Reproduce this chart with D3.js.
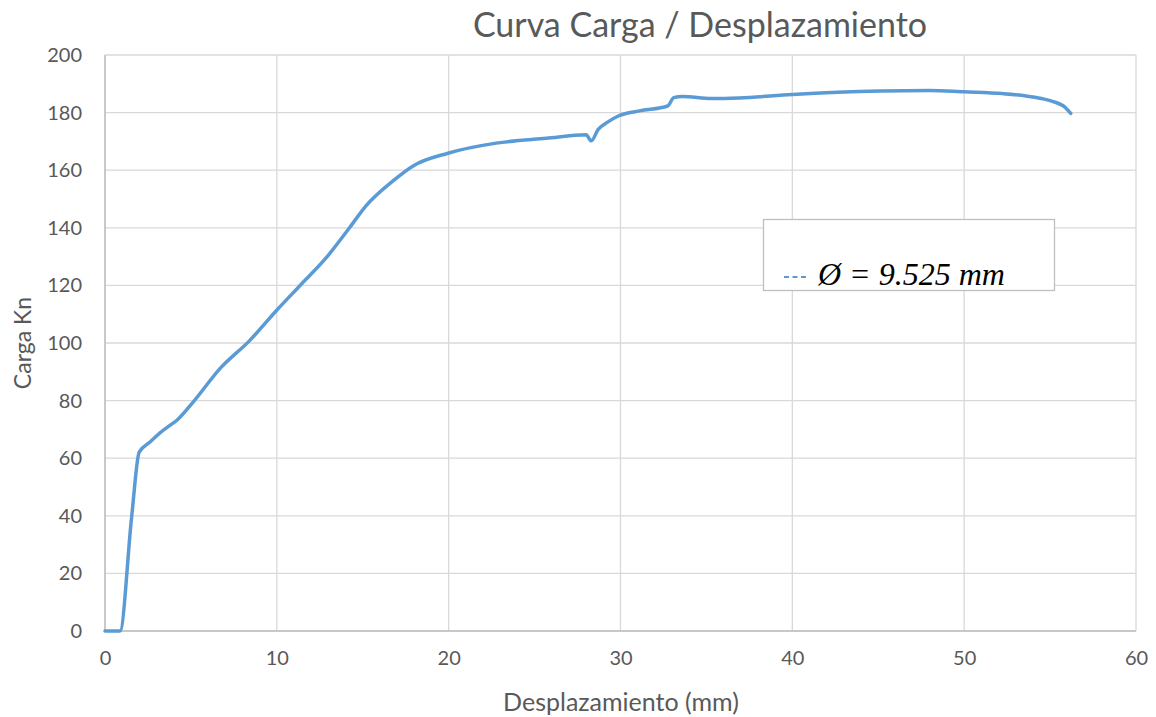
<!DOCTYPE html>
<html lang="es">
<head>
  <meta charset="UTF-8">
  <title>Curva Carga / Desplazamiento</title>
  <script src="https://d3js.org/d3.v7.min.js"></script>
  <style>
    body { margin: 0; background: #fff; }
    text { font-family: Lato, 'Open Sans', sans-serif; fill: #595959; }
    .grid line { stroke: #d9d9d9; stroke-width: 1.3; }
    .axis path, .axis line { display: none; }
    .axis text { font-size: 20px; fill: #595959; font-family: Lato, sans-serif; }
    .curve { fill: none; stroke: #5b9bd5; stroke-width: 3.5; stroke-linejoin: round; stroke-linecap: round; }
  </style>
</head>
<body>
  <svg id="chart" width="1156" height="717"></svg>
  <script>
    // desplazamiento (mm) / carga (kN)
    const desplazamiento = [0, 0.87, 1.55, 1.99, 2.62, 3.2, 3.78, 4.17, 5.13, 6.69, 8.43, 9.98, 11.34, 12.89, 14.24, 15.2, 16.76, 17.93, 19.96, 22.77, 25.68, 28.0, 28.3, 28.7, 29.2, 29.9, 31.1, 32.75, 33.1, 33.6, 35.3, 36.9, 40, 45.1, 48, 50, 52.2, 53.6, 54.5, 55.1, 55.9, 56.2];
    const carga = [0, 0, 39.6, 62.1, 65.6, 68.8, 71.4, 73.1, 79.5, 91.1, 100.9, 111.3, 119.9, 129.7, 140.1, 147.7, 156.3, 161.5, 165.9, 169.4, 171.1, 172.3, 170.2, 174.2, 176.5, 178.9, 180.6, 182.3, 185.2, 185.6, 184.9, 185.1, 186.3, 187.5, 187.7, 187.2, 186.6, 185.8, 184.9, 184.0, 181.7, 179.7];
    const xTicks = [0, 10, 20, 30, 40, 50, 60];
    const yTicks = [0, 20, 40, 60, 80, 100, 120, 140, 160, 180, 200];

    const svg = d3.select("#chart");
    const margin = { left: 105, right: 20, top: 55, bottom: 86 };
    const W = 1156, H = 717;

    const x = d3.scaleLinear().domain([0, 60]).range([margin.left, W - margin.right]);
    const y = d3.scaleLinear().domain([0, 200]).range([H - margin.bottom, margin.top]);

    // grid
    svg.append("g").attr("class", "grid")
      .selectAll("line").data(yTicks).join("line")
      .attr("x1", x(0)).attr("x2", x(60))
      .attr("y1", d => y(d)).attr("y2", d => y(d));
    svg.append("g").attr("class", "grid")
      .selectAll("line").data(xTicks).join("line")
      .attr("y1", y(0)).attr("y2", y(200))
      .attr("x1", d => x(d)).attr("x2", d => x(d));

    // axis lines
    svg.append("line").attr("x1", x(0)).attr("x2", x(60)).attr("y1", y(0)).attr("y2", y(0))
      .attr("stroke", "#bfbfbf").attr("stroke-width", 1.5);
    svg.append("line").attr("x1", x(0)).attr("x2", x(0)).attr("y1", y(0)).attr("y2", y(200))
      .attr("stroke", "#bfbfbf").attr("stroke-width", 1.5);

    svg.append("g").attr("class", "axis")
      .attr("transform", `translate(0,${y(0)})`)
      .call(d3.axisBottom(x).tickValues(xTicks).tickSize(0).tickPadding(20));
    svg.append("g").attr("class", "axis")
      .attr("transform", `translate(${x(0)},0)`)
      .call(d3.axisLeft(y).tickValues(yTicks).tickSize(0).tickPadding(23));

    // curve
    const pts = desplazamiento.map((d, i) => [d, carga[i]]);
    const line = d3.line().x(d => x(d[0])).y(d => y(d[1])).curve(d3.curveMonotoneX);
    svg.append("path").datum(pts).attr("class", "curve").attr("d", line);

    // titles
    svg.append("text").attr("x", 700).attr("y", 37).attr("text-anchor", "middle")
      .style("font-size", "34px").text("Curva Carga / Desplazamiento");
    svg.append("text").attr("x", 621).attr("y", 711).attr("text-anchor", "middle")
      .style("font-size", "25px").text("Desplazamiento (mm)");
    svg.append("text").attr("transform", "translate(31,343) rotate(-90)").attr("text-anchor", "middle")
      .style("font-size", "23px").text("Carga Kn");

    // legend
    const lg = svg.append("g");
    lg.append("rect").attr("x", 763.5).attr("y", 219.5).attr("width", 291).attr("height", 71)
      .attr("fill", "#fff").attr("stroke", "#bfbfbf").attr("stroke-width", 1.3);
    lg.append("line").attr("x1", 784).attr("x2", 808).attr("y1", 277).attr("y2", 277)
      .attr("stroke", "#2e75c6").attr("stroke-width", 1.6).attr("stroke-dasharray", "5,3.5");
    lg.append("text").attr("x", 818).attr("y", 285)
      .style("font-family", "'Liberation Serif', serif").style("font-style", "italic")
      .style("font-size", "32px").style("fill", "#000")
      .text("Ø = 9.525 mm");
  </script>
</body>
</html>
